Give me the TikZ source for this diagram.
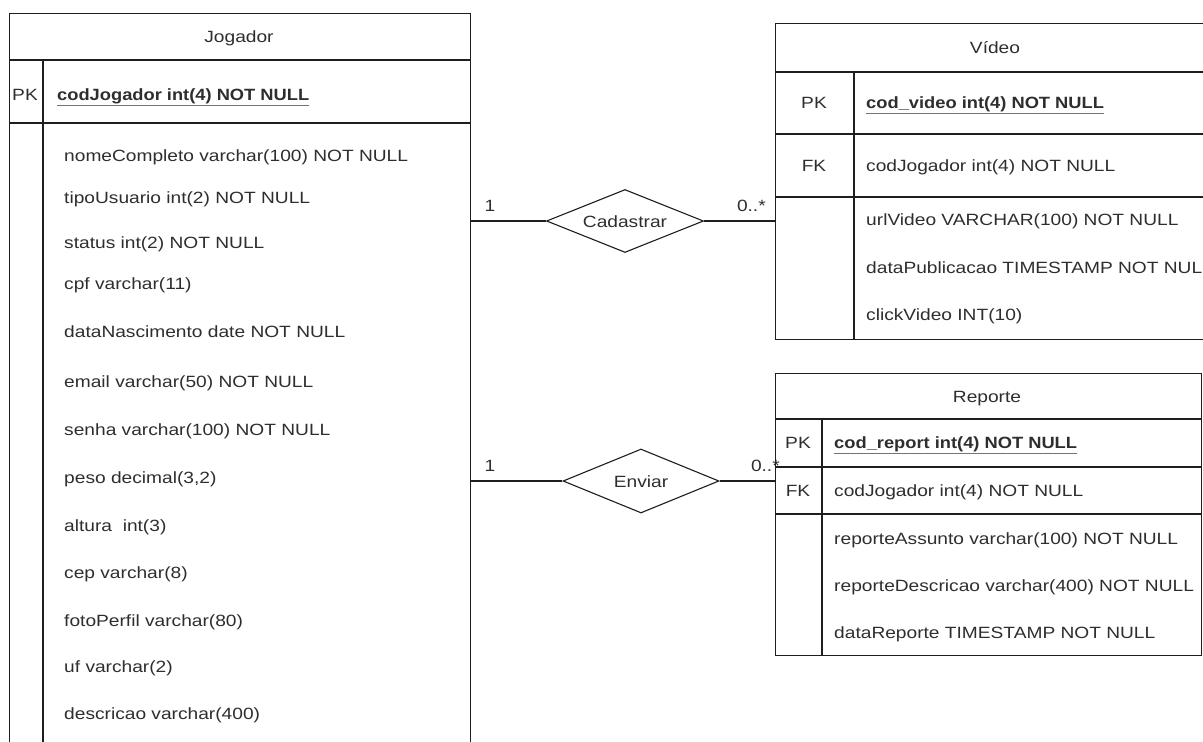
\documentclass[tikz,border=0pt]{standalone}
\usepackage{fontspec}
\setmainfont{Liberation Sans}
\usetikzlibrary{shapes.geometric}
\newcommand\fsz{\fontsize{16.3}{19}\selectfont}
\definecolor{linec}{HTML}{1E1E1E}
\definecolor{txtc}{HTML}{2E2E2E}
\tikzset{
  lbl/.style={font=\fsz, text=txtc, inner sep=0pt, xscale=1.175, text height=11.7pt, text depth=0pt},
  attr/.style={lbl, anchor=west},
  pkf/.style={lbl, anchor=west, font=\fsz\bfseries, xscale=0.955},
  tbl/.style={draw=linec, line width=1.3pt, fill=white, anchor=north west, inner sep=0pt},
  rel/.style={draw=linec, line width=1.1pt, diamond, inner sep=0pt, fill=white},
  conn/.style={draw=linec, line width=1.1pt},
  sep/.style={draw=linec, line width=1.3pt},
  pkul/.style={draw=black!55, line width=0.8pt}
}
\begin{document}
\begin{tikzpicture}[x=1pt,y=-1pt]
\useasboundingbox[fill=white] (0,0) rectangle (1203,742);
\clip (0,0) rectangle (1203,742);

% ---------- Jogador ----------
\node[tbl, minimum width=461pt, minimum height=780pt] (jog) at (9,13) {};
\draw[sep] (9,60) -- (470,60);
\draw[sep] (9,123) -- (470,123);
\draw[sep] (43,60) -- (43,760);
\node[lbl] (jogt) at (239,37) {Jogador};
\node[lbl] (jogpk) at (25,95) {PK};
\node[pkf] (jogpkf) at (57,95) {codJogador int(4) NOT NULL};
\draw[pkul] (57,105) -- (jogpkf.east |- 0,105);
\node[attr] (a1) at (64,156) {nomeCompleto varchar(100) NOT NULL};
\node[attr] (a2) at (64,198) {tipoUsuario int(2) NOT NULL};
\node[attr] (a3) at (64,243) {status int(2) NOT NULL};
\node[attr] (a4) at (64,284) {cpf varchar(11)};
\node[attr] (a5) at (64,332) {dataNascimento date NOT NULL};
\node[attr] (a6) at (64,382) {email varchar(50) NOT NULL};
\node[attr] (a7) at (64,430) {senha varchar(100) NOT NULL};
\node[attr] (a8) at (64,478) {peso decimal(3,2)};
\node[attr] (a9) at (64,526) {altura\ \ int(3)};
\node[attr] (a10) at (64,573) {cep varchar(8)};
\node[attr] (a11) at (64,621) {fotoPerfil varchar(80)};
\node[attr] (a12) at (64,667) {uf varchar(2)};
\node[attr] (a13) at (64,714) {descricao varchar(400)};

% ---------- Video ----------
\node[tbl, minimum width=440pt, minimum height=316pt] (vid) at (775,23) {};
\draw[sep] (775,72) -- (1215,72);
\draw[sep] (775,134) -- (1215,134);
\draw[sep] (775,197) -- (1215,197);
\draw[sep] (854,72) -- (854,339);
\node[lbl] (vidt) at (995,48) {Vídeo};
\node[lbl] (vidpk) at (814,103) {PK};
\node[pkf] (vidpkf) at (866,103) {cod\_video int(4) NOT NULL};
\draw[pkul] (866,113) -- (vidpkf.east |- 0,113);
\node[lbl] (vidfk) at (814,166) {FK};
\node[attr] (vidfkf) at (866,166) {codJogador int(4) NOT NULL};
\node[attr] (v1) at (866,220) {urlVideo VARCHAR(100) NOT NULL};
\node[attr] (v2) at (866,268) {dataPublicacao TIMESTAMP NOT NULL};
\node[attr] (v3) at (866,315) {clickVideo INT(10)};

% ---------- Reporte ----------
\node[tbl, minimum width=426pt, minimum height=282pt] (rep) at (775,373) {};
\draw[sep] (775,419) -- (1201,419);
\draw[sep] (775,467) -- (1201,467);
\draw[sep] (775,514) -- (1201,514);
\draw[sep] (822,419) -- (822,655);
\node[lbl] (rept) at (987,397) {Reporte};
\node[lbl] (reppk) at (798,443) {PK};
\node[pkf] (reppkf) at (834,443) {cod\_report int(4) NOT NULL};
\draw[pkul] (834,453) -- (reppkf.east |- 0,453);
\node[lbl] (repfk) at (798,491) {FK};
\node[attr] (repfkf) at (834,491) {codJogador int(4) NOT NULL};
\node[attr] (r1) at (834,539) {reporteAssunto varchar(100) NOT NULL};
\node[attr] (r2) at (834,586) {reporteDescricao varchar(400) NOT NULL};
\node[attr] (r3) at (834,633) {dataReporte TIMESTAMP NOT NULL};

% ---------- Relationships ----------
\node[rel, minimum width=157pt, minimum height=63pt] (cad) at (625,221) {};
\node[lbl] (cadt) at (625,222) {Cadastrar};
\node[rel, minimum width=156pt, minimum height=64pt] (env) at (641,481) {};
\node[lbl] (envt) at (641,482) {Enviar};

\draw[conn] (cad.west) -- (cad.west -| jog.east);
\draw[conn] (cad.east) -- (cad.east -| vid.west);
\draw[conn] (env.west) -- (env.west -| jog.east);
\draw[conn] (env.east) -- (env.east -| rep.west);

\node[lbl] (c1) at (490,206) {1};
\node[lbl, anchor=east] (c2) at (766,206) {0..*};
\node[lbl] (c3) at (490,466) {1};
\node[lbl, anchor=east] (c4) at (780,466) {0..*};
\end{tikzpicture}
\end{document}
